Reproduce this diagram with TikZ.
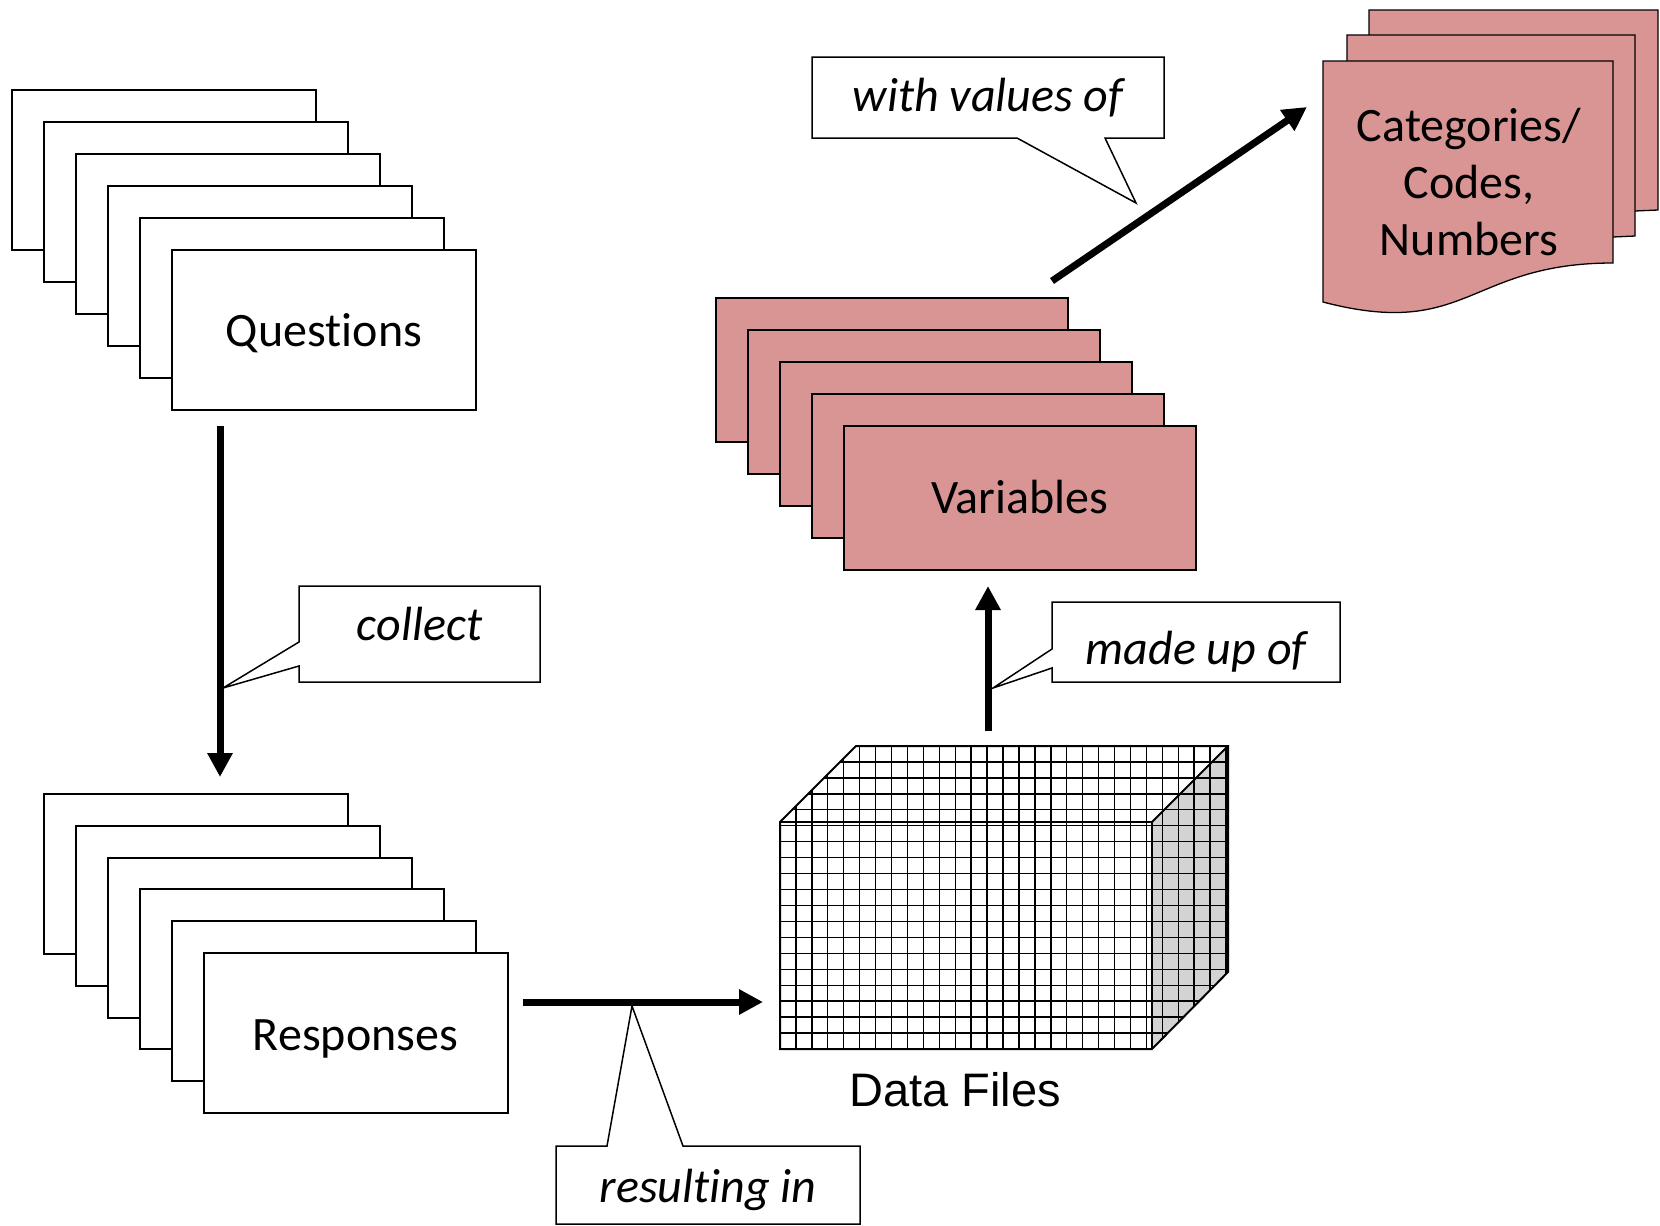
\documentclass[tikz,border=0pt]{standalone}
\usepackage{fontspec}
\setmainfont{Carlito}[Ligatures=NoCommon]
\newfontfamily\arialish{Liberation Sans}
\usetikzlibrary{arrows.meta,calc}
\definecolor{rosefill}{HTML}{D99594}
\definecolor{sidegray}{HTML}{D3D3D3}

\begin{document}
\begin{tikzpicture}[x=0.5pt, y=-0.5pt,
  font=\fontsize{24}{28.3}\selectfont,
  sheet/.style={draw=black, line width=1pt, inner sep=0pt, outer sep=0pt},
  qcard/.style={sheet, fill=white, minimum width=152pt, minimum height=80pt},
  vcard/.style={sheet, fill=rosefill, minimum width=176pt, minimum height=72pt},
  txt/.style={anchor=base, inner sep=0pt, outer sep=0pt},
  ittxt/.style={txt, font=\fontsize{24}{28.3}\selectfont\itshape},
  callbox/.style={inner sep=0pt, outer sep=0pt},
  callout/.style={draw=black, fill=white, line width=0.75pt},
  flow/.style={line width=3.5pt, -{Triangle[length=12pt,width=12pt]}},
  docsheet/.style={draw=black, line width=0.65pt, fill=rosefill},
  gridline/.style={draw=black, line width=0.7pt},
  cubeedge/.style={draw=black, line width=1pt},
]
\useasboundingbox (0,0) rectangle (1660,1226);

% ---------- stack of question sheets ----------
\foreach \k in {0,...,5}
  \node[qcard] (q\k) at ({164+32*\k},{170+32*\k}) {};
\node[txt] (q-label) at (324,346) {Questions};

% ---------- stack of response sheets ----------
\foreach \k in {0,...,5}
  \node[qcard] (r\k) at ({195.5+32*\k},{874+31.8*\k}) {};
\node[txt] (r-label) at (355.5,1050) {Responses};

% ---------- stack of variable sheets ----------
\foreach \k in {0,...,4}
  \node[vcard] (v\k) at ({892+32*\k},{370+32*\k}) {};
\node[txt] (v-label) at (1020,513) {Variables};

% ---------- data cube ----------
\coordinate (c-ftl) at (780,822);
\coordinate (c-ftr) at (1152,822);
\coordinate (c-fbr) at (1152,1049);
\coordinate (c-fbl) at (780,1049);
\coordinate (c-btl) at (856,746);
\coordinate (c-btr) at (1228,746);
\coordinate (c-bbr) at (1228,972);
\node[inner sep=0pt, outer sep=0pt, minimum width=224pt, minimum height=151.5pt] (cube) at (1004,897.5) {};
\fill[sidegray] (c-ftr) -- (c-btr) -- (c-bbr) -- (c-fbr) -- cycle;
\begin{scope}
  \clip (c-fbl) -- (c-ftl) -- (c-btl) -- (c-btr) -- (c-bbr) -- (c-fbr) -- cycle;
  \foreach \i in {0,...,28}
    \draw[gridline] ({780+15.93*\i},740) -- ({780+15.93*\i},1055);
  \foreach \j in {0,...,19}
    \draw[gridline] (775,{1049-15.95*\j}) -- (1235,{1049-15.95*\j});
\end{scope}
\draw[cubeedge] (c-fbl) -- (c-ftl) -- (c-btl) -- (c-btr) -- (c-bbr) -- (c-fbr) -- cycle;
\draw[cubeedge] (c-ftl) -- (c-ftr) -- (c-fbr);
\draw[cubeedge] (c-ftr) -- (c-btr);
\node[txt, font=\arialish\fontsize{23.5}{28}\selectfont] (d-label) at (955,1106) {Data Files};

% ---------- multi-document: categories / codes ----------
\path[docsheet] (1369,10) -- (1658,10) -- (1658,210) -- (1635,211) -- (1369,211) -- cycle;
\path[docsheet] (1347,35) -- (1635,35) -- (1635,236) -- (1613,237) -- (1347,237) -- cycle;
\node[inner sep=0pt, outer sep=0pt, minimum width=145pt, minimum height=120.5pt] (cat) at (1468,181.5) {};
\path[docsheet] (1323,61) -- (1613,61) -- (1613,263)
  .. controls (1468,263) and (1468,340) .. (1323,302) -- cycle;
\node[txt, align=center] (c-label) at (1469,255) {Categories/\\Codes,\\Numbers};

% ---------- callouts ----------
\node[callbox, minimum width=120.5pt, minimum height=48pt] (collect) at (419.5,634) {};
\coordinate (collect-tip) at (223,688);
\draw[callout] (collect.north west) -- (collect.north east) -- (collect.south east)
  -- (collect.south west) -- ([yshift=8pt]collect.south west) -- (collect-tip)
  -- ([yshift=20pt]collect.south west) -- cycle;
\node[ittxt] (collect-label) at (419.5,640) {collect};

\node[callbox, minimum width=144pt, minimum height=40pt] (madeup) at (1196,642) {};
\coordinate (madeup-tip) at (993,688);
\draw[callout] (madeup.north west) -- (madeup.north east) -- (madeup.south east)
  -- (madeup.south west) -- ([yshift=7pt]madeup.south west) -- (madeup-tip)
  -- ([yshift=16.5pt]madeup.south west) -- cycle;
\node[ittxt] (madeup-label) at (1196,664) {made up of};

\node[callbox, minimum width=176pt, minimum height=40.5pt] (withval) at (988,97.5) {};
\coordinate (withval-tip) at (1136,203);
\draw[callout] (withval.north west) -- (withval.north east) -- (withval.south east)
  -- ([xshift=146.5pt]withval.south west) -- (withval-tip)
  -- ([xshift=102.5pt]withval.south west) -- (withval.south west) -- cycle;
\node[ittxt] (withval-label) at (988,111) {with values of};

\node[callbox, minimum width=152pt, minimum height=39pt] (result) at (708,1185) {};
\coordinate (result-tip) at (632,1006);
\draw[callout] (result.north west) -- ([xshift=25.5pt]result.north west) -- (result-tip)
  -- ([xshift=63.5pt]result.north west) -- (result.north east) -- (result.south east)
  -- (result.south west) -- cycle;
\node[ittxt] (result-label) at (708,1202) {resulting in};

% ---------- flow arrows ----------
\coordinate (a-collect) at ([xshift=24pt]q5.south west);
\draw[flow, shorten <=8pt, shorten >=8.5pt] (a-collect) -- (a-collect |- r0.north);

\coordinate (a-result) at ([yshift=15.5pt]r5.east);
\draw[flow, shorten <=7.5pt, shorten >=8.5pt] (a-result) -- (a-result -| cube.west);

\coordinate (a-madeup) at ([xshift=72pt]v4.south west);
\draw[flow, shorten <=7.5pt, shorten >=8pt] (a-madeup |- cube.north) -- (a-madeup);

\draw[flow] ([xshift=-8pt,yshift=8.5pt]v0.north east) -- ([xshift=-8pt,yshift=37.25pt]cat.west);
\end{tikzpicture}
\end{document}
